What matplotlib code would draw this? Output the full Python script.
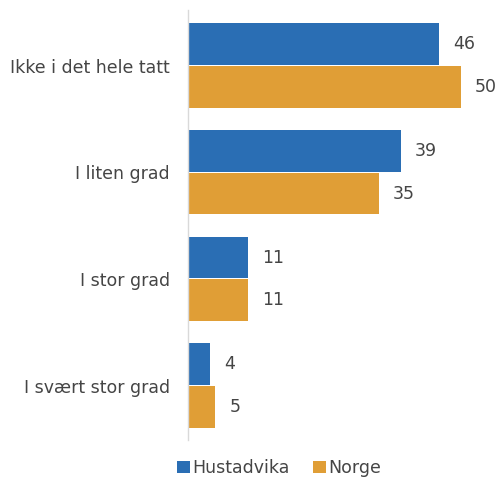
import matplotlib.pyplot as plt
import numpy as np

categories = ['Ikke i det hele tatt', 'I liten grad', 'I stor grad', 'I svært stor grad']
hustadvika = [46, 39, 11, 4]
norge = [50, 35, 11, 5]
series_names = ['Hustadvika', 'Norge']

blue = '#2A6EB4'
orange = '#E09E36'
text_col = '#454545'

fig = plt.figure(figsize=(5, 4.83), dpi=100)
ax = fig.add_axes([0.376, 0.089, 0.624, 0.89])

y = np.arange(len(categories))
h = 0.39
b1 = ax.barh(y - 0.2, hustadvika, height=h, color=blue, label=series_names[0])
b2 = ax.barh(y + 0.2, norge, height=h, color=orange, label=series_names[1])

for bars, vals in ((b1, hustadvika), (b2, norge)):
    for bar, v in zip(bars, vals):
        ax.annotate(str(v), (bar.get_width(), bar.get_y() + bar.get_height() / 2),
                    xytext=(10, 0), textcoords='offset points', va='center', ha='left',
                    fontsize=12.5, color=text_col)

ax.set_xlim(0, 57.1)
ax.set_ylim(3.51, -0.52)
ax.set_yticks(y)
ax.set_yticklabels(categories, fontsize=12.5, color=text_col)
ax.tick_params(axis='y', length=0, pad=13)
ax.set_xticks([])
for s in ['top', 'right', 'bottom']:
    ax.spines[s].set_visible(False)
ax.spines['left'].set_color('#d9d9d9')
ax.spines['left'].set_linewidth(1)

leg = fig.legend(handles=[b1, b2], labels=series_names, loc='center', bbox_to_anchor=(0.558, 0.031),
                 ncol=2, frameon=False, fontsize=12.5, handlelength=0.75, handleheight=0.75,
                 handletextpad=0.15, columnspacing=1.3)
for t in leg.get_texts():
    t.set_color(text_col)

fig.savefig('out.png', dpi=100)
